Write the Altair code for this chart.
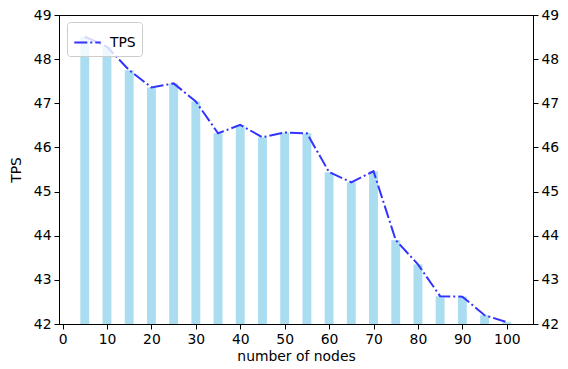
import altair as alt
import pandas as pd

nodes = [5, 10, 15, 20, 25, 30, 35, 40, 45, 50, 55, 60, 65, 70, 75, 80, 85, 90, 95, 100]
tps = [48.51, 48.28, 47.75, 47.36, 47.45, 47.04, 46.32, 46.51, 46.23, 46.34,
       46.32, 45.44, 45.21, 45.46, 43.90, 43.35, 42.63, 42.62, 42.20, 42.04]
series = ["TPS"] * len(nodes)
x_ticks = [0, 10, 20, 30, 40, 50, 60, 70, 80, 90, 100]
y_ticks = [42, 43, 44, 45, 46, 47, 48, 49]

df = pd.DataFrame({"nodes": nodes, "tps": tps, "series": series})

FONT = "DejaVu Sans"
FS = 13.9

xscale = alt.Scale(domain=[-0.8, 105.9], nice=False)
yscale = alt.Scale(domain=[42, 49], nice=False, zero=False)


def xaxis():
    return alt.Axis(values=x_ticks, title="number of nodes", grid=False, labelFlush=False, titlePadding=4)


bars = alt.Chart(df).transform_calculate(
    x0="datum.nodes - 1", x1="datum.nodes + 1"
).mark_bar(color="skyblue", opacity=0.7, clip=True).encode(
    x=alt.X("x0:Q", scale=xscale, axis=xaxis()),
    x2="x1:Q",
    y=alt.Y("tps:Q", scale=yscale,
            axis=alt.Axis(values=y_ticks, title="TPS", orient="left", grid=False, titlePadding=10)),
    y2=alt.datum(42),
)

line = alt.Chart(df).mark_line(strokeWidth=2, strokeDash=[13, 3, 2, 3], clip=True).encode(
    x=alt.X("nodes:Q", scale=xscale, axis=xaxis()),
    y=alt.Y("tps:Q", scale=yscale,
            axis=alt.Axis(values=y_ticks, title="TPS", orient="right", grid=False, titlePadding=3)),
    color=alt.Color("series:N",
                    scale=alt.Scale(domain=["TPS"], range=["#3333ff"]),
                    legend=alt.Legend(title=None, orient="none", legendX=8, legendY=7,
                                      fillColor="rgba(255,255,255,0.8)", strokeColor="#cccccc",
                                      cornerRadius=3, padding=6, symbolType="stroke",
                                      symbolDash=[13, 3, 2, 3],
                                      symbolStrokeWidth=2, symbolSize=700, labelOffset=8,
                                      labelFont=FONT, labelFontSize=FS, labelColor="black")),
)

chart = alt.layer(bars, line).resolve_scale(y="independent").properties(
    width=474, height=309,
    autosize=alt.AutoSizeParams(type="none"),
    padding={"left": 51, "top": 7, "right": 27, "bottom": 37},
).configure_view(
    stroke="black", strokeWidth=1
).configure_axis(
    labelFont=FONT, titleFont=FONT, labelFontSize=FS, titleFontSize=FS,
    titleFontWeight="normal", labelColor="black", titleColor="black",
    domainColor="black", tickColor="black", tickSize=5, labelPadding=3,
)

chart.save("out.html", embed_options={"renderer": "svg", "actions": False})
